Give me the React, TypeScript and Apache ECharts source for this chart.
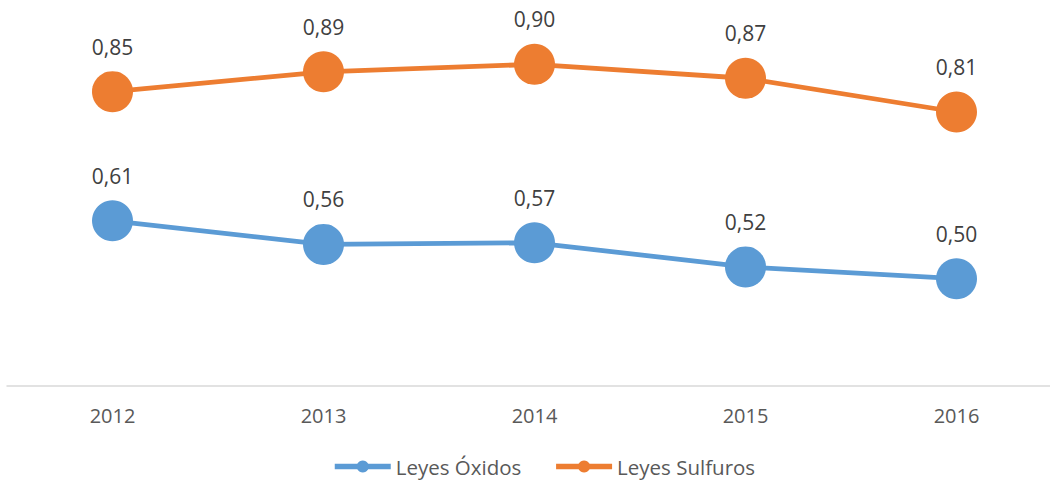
import React, { useEffect, useRef } from "react";
import * as echarts from "echarts";

const categories = ["2012", "2013", "2014", "2015", "2016"];
const leyesOxidos = [0.608, 0.564, 0.567, 0.522, 0.5];
const leyesSulfuros = [0.849, 0.886, 0.9, 0.874, 0.811];
const seriesNames = ["Leyes Óxidos", "Leyes Sulfuros"];

const BLUE = "#5B9BD5";
const ORANGE = "#ED7D31";
const FONT = "'Open Sans', sans-serif";

const fmt = (v: number) => v.toFixed(2).replace(".", ",");

export default function App() {
  const ref = useRef<HTMLDivElement>(null);
  useEffect(() => {
    document.body.style.margin = "0";
    if (!ref.current) return;
    const chart = echarts.init(ref.current, undefined, { renderer: "svg" });
    const mkSeries = (name: string, data: number[], color: string) => ({
      name,
      type: "line",
      data,
      symbol: "circle",
      symbolSize: 41,
      itemStyle: { color },
      lineStyle: { color, width: 4.8 },
      label: {
        show: true,
        position: "top",
        distance: 14,
        color: "#404040",
        fontSize: 21,
        fontFamily: FONT,
        formatter: (p: any) => fmt(p.value),
      },
      z: 2,
    });
    chart.setOption({
      animation: false,
      textStyle: { fontFamily: FONT },
      grid: {
        left: 7,
        top: 10.7,
        right: -12,
        bottom: 97.1,
        containLabel: false,
        outerBoundsMode: "none",
      },
      legend: {
        data: seriesNames,
        top: 456,
        left: 332,
        padding: 0,
        itemWidth: 56,
        itemHeight: 15,
        itemGap: 32,
        lineStyle: { width: 5.5 },
        textStyle: { color: "#595959", fontSize: 20.5, fontFamily: FONT },
      },
      xAxis: {
        type: "category",
        data: categories,
        boundaryGap: true,
        axisLine: { show: true, lineStyle: { color: "#D9D9D9", width: 1.5 } },
        axisTick: { show: false },
        axisLabel: { color: "#595959", fontSize: 20, fontFamily: FONT, margin: 20 },
        splitLine: { show: false },
      },
      yAxis: {
        type: "value",
        min: 0.3,
        max: 1.0,
        show: false,
        splitLine: { show: false },
      },
      series: [
        mkSeries(seriesNames[0], leyesOxidos, BLUE),
        mkSeries(seriesNames[1], leyesSulfuros, ORANGE),
      ],
    });
    return () => chart.dispose();
  }, []);
  return <div ref={ref} style={{ width: 1050, height: 483 }} />;
}
